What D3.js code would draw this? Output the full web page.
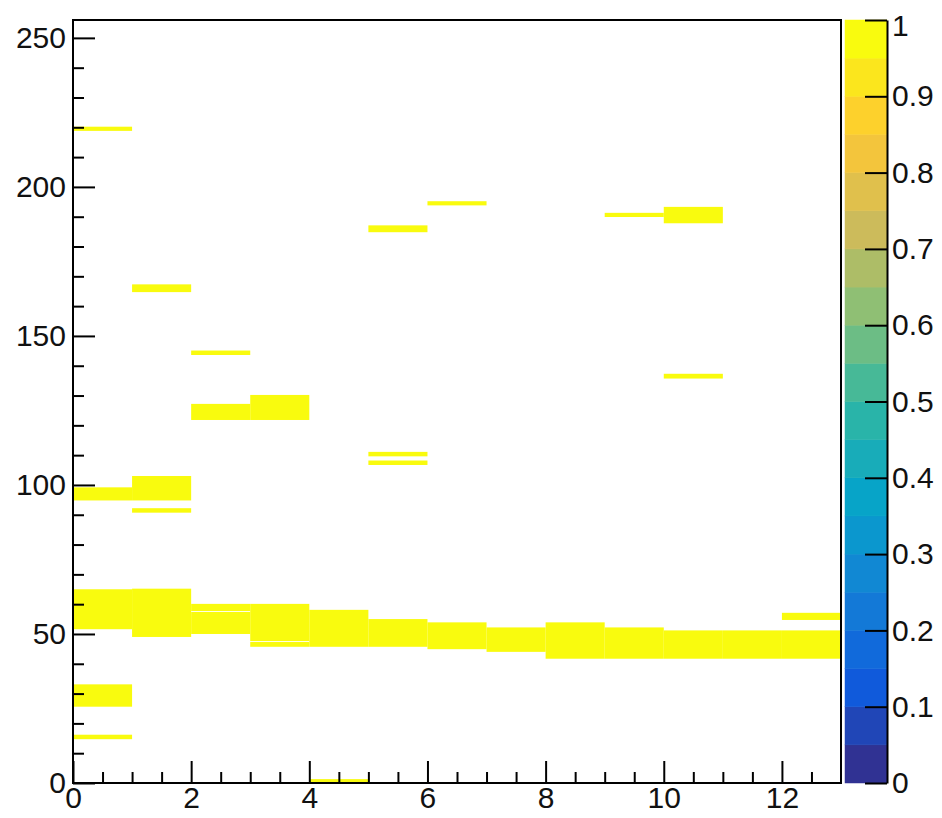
<!DOCTYPE html>
<html>
<head>
<meta charset="utf-8">
<script src="https://cdn.jsdelivr.net/npm/d3@7/dist/d3.min.js"></script>
<style>
  html, body { margin: 0; padding: 0; background: #fff; }
  svg text { font-family: "Liberation Sans", Arial, Helvetica, sans-serif; font-size: 30px; fill: #111; }
</style>
</head>
<body>
<svg id="chart" width="942" height="818"></svg>
<script>
// Axis ranges
const xDomain = [0, 13];
const yDomain = [0, 256];
const zDomain = [0, 1];

// Filled 2D histogram cells: x bin (width 1), y extent and content
const cellX    = [0, 0, 0, 0, 0,
                  1, 1, 1, 1,
                  2, 2, 2, 2,
                  3, 3, 3,
                  4, 4,
                  5, 5, 5, 5,
                  6, 6,
                  7,
                  8,
                  9, 9,
                  10, 10, 10,
                  11,
                  12, 12];
const cellYLow = [218.8, 94.8, 51.6, 25.6, 14.7,
                  164.7, 94.8, 90.7, 49.0,
                  143.6, 121.8, 57.7, 50.0,
                  121.8, 47.6, 45.7,
                  45.7, 0.0,
                  184.8, 109.6, 106.7, 45.7,
                  193.8, 44.9,
                  44.0,
                  41.7,
                  189.9, 41.7,
                  187.8, 135.7, 41.7,
                  41.7,
                  54.7, 41.7];
const cellYHigh = [220.2, 99.2, 65.0, 33.1, 16.2,
                   167.3, 103.0, 92.2, 65.2,
                   145.1, 127.2, 60.1, 57.4,
                   130.2, 60.1, 47.3,
                   58.1, 1.3,
                   187.1, 111.1, 108.2, 55.0,
                   195.2, 53.9,
                   52.2,
                   53.9,
                   191.3, 52.2,
                   193.3, 137.3, 51.2,
                   51.2,
                   57.1, 51.2];
const cellZ = cellX.map(() => 1);

// Tick values
const xMajorTicks = [0, 2, 4, 6, 8, 10, 12];
const xMinorTicks = [0.5, 1, 1.5, 2.5, 3, 3.5, 4.5, 5, 5.5, 6.5, 7, 7.5, 8.5, 9, 9.5, 10.5, 11, 11.5, 12.5];
const yMajorTicks = [0, 50, 100, 150, 200, 250];
const yMinorTicks = [10, 20, 30, 40, 60, 70, 80, 90, 110, 120, 130, 140, 160, 170, 180, 190, 210, 220, 230, 240];
const zTicks = [0, 0.1, 0.2, 0.3, 0.4, 0.5, 0.6, 0.7, 0.8, 0.9, 1];
const zTickLabels = ["0", "0.1", "0.2", "0.3", "0.4", "0.5", "0.6", "0.7", "0.8", "0.9", "1"];
const nContours = 20;

// "Bird" palette stops
const birdStops = [0.0000, 0.1250, 0.2500, 0.3750, 0.5000, 0.6250, 0.7500, 0.8750, 1.0000];
const birdRed   = [0.2082, 0.0592, 0.0780, 0.0232, 0.1802, 0.5301, 0.8186, 0.9956, 0.9764];
const birdGreen = [0.1664, 0.3599, 0.5041, 0.6419, 0.7178, 0.7492, 0.7328, 0.7862, 0.9832];
const birdBlue  = [0.5293, 0.8684, 0.8385, 0.7914, 0.6425, 0.4662, 0.3499, 0.1968, 0.0539];

const bird = d3.scaleLinear()
  .domain(birdStops)
  .range(birdStops.map((_, i) => d3.rgb(birdRed[i] * 255, birdGreen[i] * 255, birdBlue[i] * 255)))
  .interpolate(d3.interpolateRgb);

// Colour of a z value: the contour band it falls into
function bandIndex(z) {
  const t = (z - zDomain[0]) / (zDomain[1] - zDomain[0]);
  return Math.max(0, Math.min(nContours - 1, Math.floor(t * nContours - 1e-9)));
}
function bandColor(i) { return bird((i + 0.35) / nContours * (nContours / (nContours - 0.65))); }

// Layout
const plot = { left: 73, right: 841, top: 20, bottom: 783 };
const bar = { left: 845, right: 887 };

const svg = d3.select("#chart");

const xs = d3.scaleLinear().domain(xDomain).range([plot.left, plot.right]);
const ys = d3.scaleLinear().domain(yDomain).range([plot.bottom, plot.top]);
const zs = d3.scaleLinear().domain(zDomain).range([plot.bottom, plot.top]);

// Cells
const cells = cellX.map((x, i) => ({ x, lo: cellYLow[i], hi: cellYHigh[i], z: cellZ[i] }));
svg.append("g").attr("class", "cells")
  .selectAll("rect").data(cells).join("rect")
  .attr("x", d => xs(d.x))
  .attr("width", d => xs(d.x + 1) - xs(d.x))
  .attr("y", d => ys(d.hi))
  .attr("height", d => ys(d.lo) - ys(d.hi))
  .attr("fill", d => bandColor(bandIndex(d.z)));

// Frame
svg.append("rect")
  .attr("x", plot.left).attr("y", plot.top)
  .attr("width", plot.right - plot.left).attr("height", plot.bottom - plot.top)
  .attr("fill", "none").attr("stroke", "#000").attr("stroke-width", 2);

function styleAxis(g) {
  g.select(".domain").remove();
  g.selectAll(".tick line").attr("stroke", "#000").attr("stroke-width", 2);
}

// X axis: major ticks with labels, minor ticks without
svg.append("g")
  .attr("transform", `translate(0,${plot.bottom})`)
  .call(d3.axisBottom(xs).tickValues(xMajorTicks).tickSize(-22).tickPadding(4).tickFormat(d3.format("d")))
  .call(styleAxis)
  .call(g => g.selectAll("text").attr("fill", "#111").style("font-size", "30px"));
svg.append("g")
  .attr("transform", `translate(0,${plot.bottom})`)
  .call(d3.axisBottom(xs).tickValues(xMinorTicks).tickSize(-11).tickFormat(""))
  .call(styleAxis);

// Y axis
svg.append("g")
  .attr("transform", `translate(${plot.left},0)`)
  .call(d3.axisLeft(ys).tickValues(yMajorTicks).tickSize(-22).tickPadding(7).tickFormat(d3.format("d")))
  .call(styleAxis)
  .call(g => g.selectAll("text").attr("fill", "#111").style("font-size", "30px"));
svg.append("g")
  .attr("transform", `translate(${plot.left},0)`)
  .call(d3.axisLeft(ys).tickValues(yMinorTicks).tickSize(-11).tickFormat(""))
  .call(styleAxis);

// Colour bar bands
const bands = d3.range(nContours);
svg.append("g").attr("class", "palette")
  .selectAll("rect").data(bands).join("rect")
  .attr("x", bar.left)
  .attr("width", bar.right - bar.left)
  .attr("y", i => zs(zDomain[0] + (i + 1) * (zDomain[1] - zDomain[0]) / nContours))
  .attr("height", i => zs(zDomain[0] + i * (zDomain[1] - zDomain[0]) / nContours) - zs(zDomain[0] + (i + 1) * (zDomain[1] - zDomain[0]) / nContours))
  .attr("fill", i => bandColor(i))
  .attr("stroke", i => bandColor(i)).attr("stroke-width", 0.5);

// Colour bar axis
svg.append("g")
  .attr("transform", `translate(${bar.right},0)`)
  .call(d3.axisRight(zs).tickValues(zTicks).tickSize(-22).tickSizeOuter(0).tickPadding(5)
    .tickFormat((d, i) => zTickLabels[i]))
  .call(g => g.select(".domain").attr("stroke", "#000").attr("stroke-width", 2))
  .call(g => g.selectAll(".tick line").attr("stroke", "#000").attr("stroke-width", 2))
  .call(g => g.selectAll("text").attr("fill", "#111").style("font-size", "30px"))
  .call(g => g.selectAll(".tick").filter(d => d === zDomain[1]).select("text").attr("dy", "0.5em"));
</script>
</body>
</html>
